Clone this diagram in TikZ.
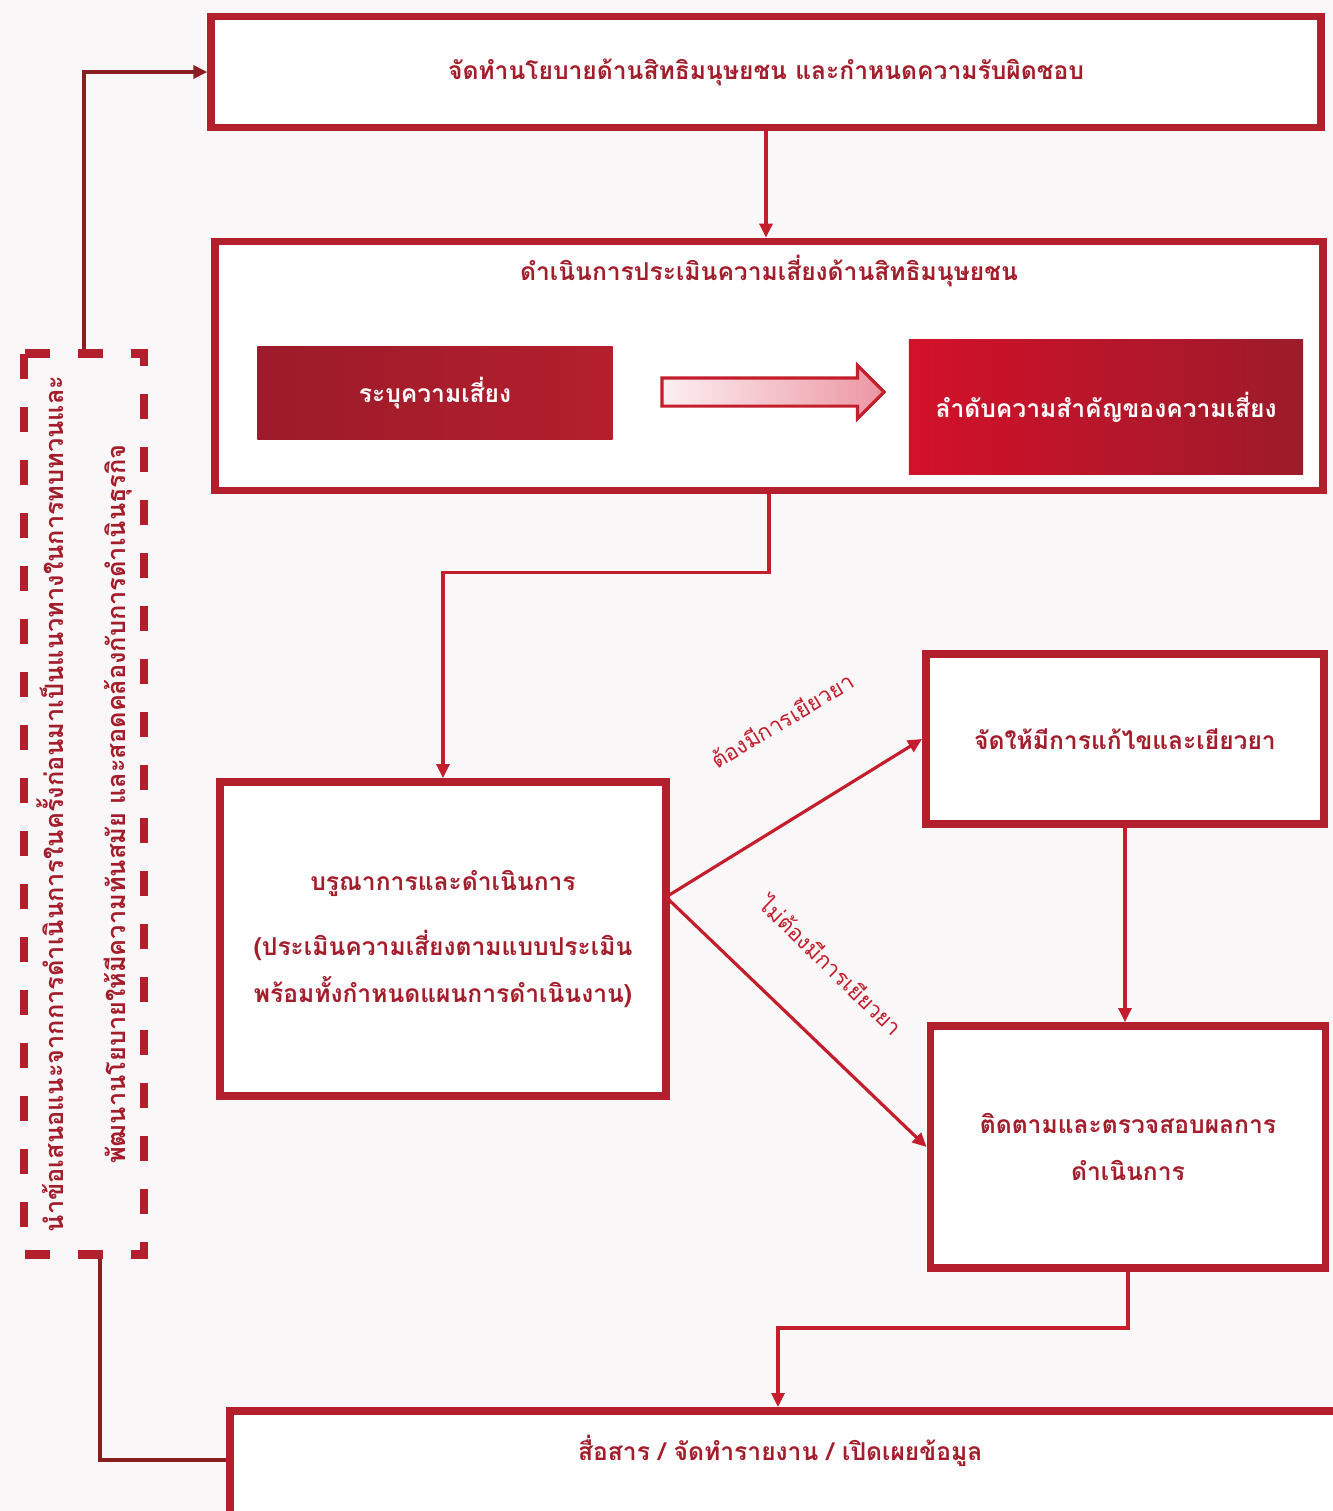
\documentclass[tikz,border=0pt]{standalone}
\usepackage{fontspec}
\usepackage{tikz}
\usetikzlibrary{calc,arrows.meta,positioning,shapes.arrows}
\newfontfamily\thaifont[Script=Thai]{Loma}
\definecolor{redx}{HTML}{B41F2D}
\definecolor{textx}{HTML}{A31D2B}
\definecolor{linex}{HTML}{C41E2C}
\definecolor{brownx}{HTML}{8A1F22}
\definecolor{pinkx}{HTML}{EC96A3}
\definecolor{paperx}{HTML}{FAF7F9}
\definecolor{maroonx}{HTML}{9C1B2A}
\definecolor{brightx}{HTML}{D3112A}
\tikzset{
  ar/.style={-{Triangle[length=1.4mm,width=1.3mm]},line width=0.9pt,linex},
  back/.style={line width=1pt,brownx},
  box/.style={draw=redx,line width=2.2pt,fill=white,align=center,inner sep=0pt,text=textx,
    font=\thaifont\bfseries\fontsize{7}{13.4}\selectfont},
  title/.style={text=textx,font=\thaifont\bfseries\fontsize{7}{13.4}\selectfont},
  fillbox/.style={inner sep=0pt,text=white,font=\thaifont\bfseries\fontsize{7}{13.4}\selectfont},
  fatarrow/.style={single arrow,draw=linex,line width=0.9pt,left color=pinkx!15,right color=pinkx,
    minimum height=2.22cm,single arrow head extend=0.125cm,inner xsep=0pt,inner ysep=0.125cm},
  dashbox/.style={draw=redx,line width=2.5pt,dash pattern=on 0.25cm off 0.28cm,align=center,
    inner sep=0pt,text=textx,font=\thaifont\bfseries\fontsize{7.2}{10}\selectfont},
  lbl/.style={text=linex,font=\thaifont\fontsize{6.3}{8}\selectfont}
}
\begin{document}
\begin{tikzpicture}[x=0.01cm,y=-0.01cm]
\fill[paperx] (0,0) rectangle (1333,1511);
\useasboundingbox (0,0) rectangle (1333,1511);
% policy and assessment
\node[box,minimum width=11.09cm,minimum height=1.11cm] (policy) at (766,72) {จัดทำนโยบายด้านสิทธิมนุษยชน และกำหนดความรับผิดชอบ};
\node[box,minimum width=11.08cm,minimum height=2.49cm,
  label={[title,anchor=center,yshift=-0.33cm]north:{ดำเนินการประเมินความเสี่ยงด้านสิทธิมนุษยชน}}] (assess) at (769,366) {};
\node[fillbox,minimum width=3.55cm,minimum height=0.93cm,left color=maroonx,right color=redx] (identify) at (435,393) {ระบุความเสี่ยง};
\node[fatarrow] (toprio) at (766,392) {};
\node[fillbox,minimum width=3.94cm,minimum height=1.35cm,left color=brightx,right color=maroonx] (priority) at (1106,407) {ลำดับความสำคัญของความเสี่ยง};
% integrate and branches
\node[box,minimum width=4.46cm,minimum height=3.14cm] (integrate) at (443,939) {บรูณาการและดำเนินการ\\[0.18cm](ประเมินความเสี่ยงตามแบบประเมิน\\พร้อมทั้งกำหนดแผนการดำเนินงาน)};
\node[box,minimum width=3.98cm,minimum height=1.7cm] (remedy) at (1125,739) {จัดให้มีการแก้ไขและเยียวยา};
\node[box,minimum width=3.95cm,minimum height=2.42cm] (monitor) at (1128,1147) {ติดตามและตรวจสอบผลการ\\ดำเนินการ};
\node[box,anchor=north west,minimum width=11.2cm,text height=0.5cm,text depth=0.83cm] (report) at (226,1407) {\hspace*{-0.2cm}สื่อสาร / จัดทำรายงาน / เปิดเผยข้อมูล};
\node[dashbox,rotate=90,minimum width=9cm,minimum height=1.2cm] (feedback) at (84,804) {นำข้อเสนอแนะจากการดำเนินการในครั้งก่อนมาเป็นแนวทางในการทบทวนและ\\[0.27cm]พัฒนานโยบายให้มีความทันสมัย และสอดคล้องกับการดำเนินธุรกิจ};
\node[lbl,rotate=31] (need) at (782,720) {ต้องมีการเยียวยา};
\node[lbl,rotate=-44] (noneed) at (832,965) {ไม่ต้องมีการเยียวยา};
% connectors
\coordinate (fork) at (666,897);
\draw[ar] (policy.south) -- (policy.south |- assess.north);
\draw[ar] (assess.south) -- ++(0,78) -| (integrate.north);
\draw[ar] (fork) -- (remedy.west);
\draw[ar] (fork) -- (monitor.west);
\draw[ar] (remedy.south) -- (remedy.south |- monitor.north);
\draw[ar] (monitor.south) -- ++(0,56) -| ($(report.north west)+(552,0)$);
\draw[back,-{Triangle[length=1.4mm,width=1.3mm]}] (feedback.east) |- (policy.west);
\draw[back] ($(report.north west)+(0,53)$) -| ($(feedback.west)+(16,0)$);
\end{tikzpicture}
\end{document}
